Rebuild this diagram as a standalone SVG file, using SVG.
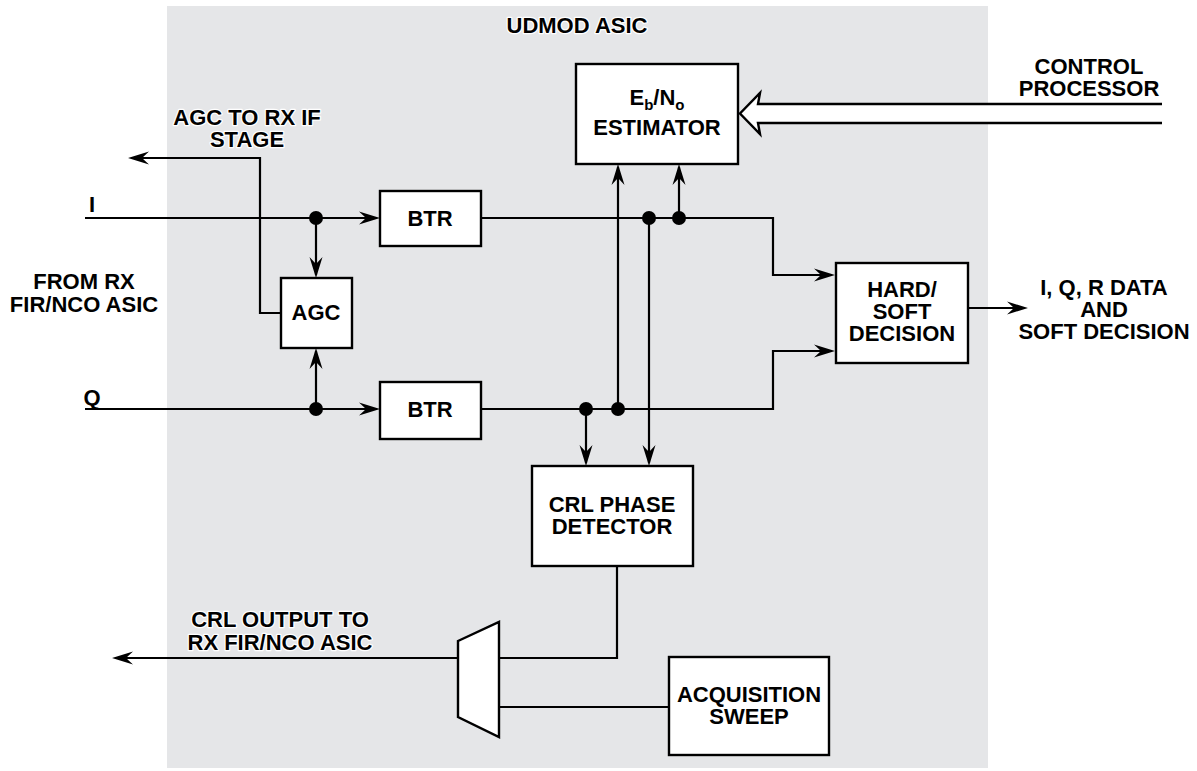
<svg xmlns="http://www.w3.org/2000/svg" width="1197" height="771" viewBox="0 0 1197 771">
<style>
  .box { fill: #ffffff; stroke: #000; stroke-width: 2.4; }
  .ln { fill: none; stroke: #000; stroke-width: 2.2; }
  .t { font-family: "Liberation Sans", Arial, sans-serif; font-weight: bold; font-size: 22px; fill: #000; text-anchor: middle; }
  .halo { stroke: #fff; stroke-width: 2.5; paint-order: stroke; stroke-linejoin: round; }
  .dot { fill: #000; }
</style>
<defs>
  <marker id="arr" viewBox="-19 -7 23 14" refX="0" refY="0" markerWidth="23" markerHeight="14" markerUnits="userSpaceOnUse" orient="auto">
    <path d="M3,0 L-18,-6.5 L-11,0 L-18,6.5 Z" fill="#000"/>
  </marker>
</defs>

<rect id="asic-bg" x="167" y="6" width="821" height="762" fill="#e5e6e8"/>
<text class="t halo" x="577" y="33">UDMOD ASIC</text>

<g id="connectors">
  <path class="ln" d="M85,218 H377" marker-end="url(#arr)"/>
  <path class="ln" d="M85,409 H377" marker-end="url(#arr)"/>
  <path class="ln" d="M316,218 V275" marker-end="url(#arr)"/>
  <path class="ln" d="M316,409 V351" marker-end="url(#arr)"/>
  <path class="ln" d="M281,313 H260 V158 H131" marker-end="url(#arr)"/>
  <path class="ln" d="M481,218 H773 V275 H832" marker-end="url(#arr)"/>
  <path class="ln" d="M481,409 H773 V351 H832" marker-end="url(#arr)"/>
  <path class="ln" d="M618,409 V167" marker-end="url(#arr)"/>
  <path class="ln" d="M679,218 V167" marker-end="url(#arr)"/>
  <path class="ln" d="M649,218 V463" marker-end="url(#arr)"/>
  <path class="ln" d="M586,409 V463" marker-end="url(#arr)"/>
  <path class="ln" d="M968,308 H1025" marker-end="url(#arr)"/>
  <path class="ln" d="M617,566 V658 H499"/>
  <path class="ln" d="M458,658 H115" marker-end="url(#arr)"/>
  <path class="ln" d="M669,707 H499"/>
  <path d="M1162,104 L758,104 L760,93 L740,113.5 L760,134 L758,123 L1162,123" fill="#fff" stroke="#000" stroke-width="2.4" stroke-linejoin="miter"/>
  <circle class="dot" cx="316" cy="218" r="7"/>
  <circle class="dot" cx="316" cy="409" r="7"/>
  <circle class="dot" cx="649" cy="218" r="7"/>
  <circle class="dot" cx="679" cy="218" r="7"/>
  <circle class="dot" cx="586" cy="409" r="7"/>
  <circle class="dot" cx="618" cy="409" r="7"/>
</g>

<g id="estimator">
  <rect class="box" x="576" y="64" width="162" height="100"/>
  <text class="t" x="657" y="105">E<tspan font-size="15" dy="5">b</tspan><tspan dy="-5">/N</tspan><tspan font-size="15" dy="5">o</tspan></text>
  <text class="t" x="657" y="135">ESTIMATOR</text>
</g>
<g id="btr-i">
  <rect class="box" x="380" y="191" width="101" height="55"/>
  <text class="t" x="430" y="226">BTR</text>
</g>
<g id="btr-q">
  <rect class="box" x="380" y="382" width="101" height="57"/>
  <text class="t" x="430" y="417">BTR</text>
</g>
<g id="agc">
  <rect class="box" x="281" y="278" width="71" height="70"/>
  <text class="t" x="316" y="320">AGC</text>
</g>
<g id="hard-soft">
  <rect class="box" x="836" y="263" width="132" height="100"/>
  <text class="t" x="902" y="297">HARD/</text>
  <text class="t" x="902" y="319">SOFT</text>
  <text class="t" x="902" y="341">DECISION</text>
</g>
<g id="crl-phase">
  <rect class="box" x="532" y="466" width="161" height="100"/>
  <text class="t" x="612" y="512">CRL PHASE</text>
  <text class="t" x="612" y="534">DETECTOR</text>
</g>
<g id="acq">
  <rect class="box" x="669" y="657" width="160" height="98"/>
  <text class="t" x="749" y="702">ACQUISITION</text>
  <text class="t" x="749" y="724">SWEEP</text>
</g>
<g id="mux">
  <polygon points="458,641 499,622 499,737 458,717" fill="#fff" stroke="#000" stroke-width="2.4"/>
</g>

<g id="labels">
  <text class="t" x="1089" y="74">CONTROL</text>
  <text class="t" x="1089" y="96">PROCESSOR</text>
  <text class="t halo" x="247" y="125">AGC TO RX IF</text>
  <text class="t halo" x="247" y="147">STAGE</text>
  <text class="t" x="92" y="212">I</text>
  <text class="t" x="92" y="405">Q</text>
  <text class="t" x="84" y="289">FROM RX</text>
  <text class="t" x="84" y="312">FIR/NCO ASIC</text>
  <text class="t" x="1104" y="295">I, Q, R DATA</text>
  <text class="t" x="1104" y="317">AND</text>
  <text class="t" x="1104" y="339">SOFT DECISION</text>
  <text class="t halo" x="280" y="627">CRL OUTPUT TO</text>
  <text class="t halo" x="280" y="650">RX FIR/NCO ASIC</text>
</g>
</svg>
